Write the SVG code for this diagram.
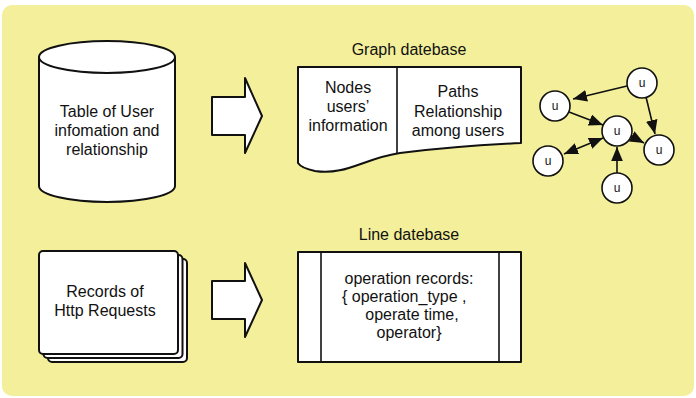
<svg xmlns="http://www.w3.org/2000/svg" width="696" height="398" viewBox="0 0 696 398">
<style>
  .shape { fill: #ffffff; stroke: #111111; stroke-width: 2; stroke-linejoin: round; }
  .txt { font-family: "Liberation Sans", Arial, sans-serif; font-size: 16px; fill: #111111; text-anchor: middle; }
  .gn { fill: #ffffff; stroke: #111111; stroke-width: 1.6; }
  .gt { font-family: "Liberation Sans", Arial, sans-serif; font-size: 12px; fill: #111111; text-anchor: middle; }
  .edge { stroke: #111111; stroke-width: 1.6; fill: none; }
</style>
<defs>
  <marker id="ah" markerUnits="userSpaceOnUse" markerWidth="14" markerHeight="12" refX="12" refY="5" orient="auto-start-reverse" viewBox="0 0 12 10">
    <path d="M0,0 L12,5 L0,10 Z" fill="#111111"/>
  </marker>
</defs>
<rect x="0" y="0" width="696" height="398" fill="#ffffff"/>
<rect id="background" x="2" y="5" width="692" height="391" rx="10" fill="#f3ef9a"/>

<g id="user-table">
  <path class="shape" d="M39,57 V186 A68,16 0 0 0 175,186 V57"/>
  <ellipse class="shape" cx="107" cy="57" rx="68" ry="16"/>
  <text class="txt" x="107" y="117">Table of User</text>
  <text class="txt" x="107" y="136">infomation and</text>
  <text class="txt" x="107" y="155">relationship</text>
</g>

<g id="http-records">
  <rect class="shape" x="48" y="259" width="139" height="103" rx="4" stroke-width="1.6"/>
  <rect class="shape" x="43.5" y="255" width="139" height="103" rx="4" stroke-width="1.6"/>
  <rect class="shape" x="39" y="251" width="139" height="103" rx="4"/>
  <text class="txt" x="105" y="297">Records of</text>
  <text class="txt" x="105" y="316">Http Requests</text>
</g>

<g id="graph-db">
  <text class="txt" x="409" y="55">Graph datebase</text>
  <path class="shape" d="M298,67 H521 V143 C480,145 440,148 400,153 C365,158 345,176 315,171 C305,169 300,166 298,163 Z"/>
  <line class="edge" x1="397" y1="67" x2="397" y2="153" stroke-width="2"/>
  <text class="txt" x="348" y="93">Nodes</text>
  <text class="txt" x="348" y="112">users’</text>
  <text class="txt" x="348" y="131">information</text>
  <text class="txt" x="458" y="97">Paths</text>
  <text class="txt" x="458" y="117">Relationship</text>
  <text class="txt" x="458" y="136">among users</text>
</g>

<g id="line-db">
  <text class="txt" x="409" y="240">Line datebase</text>
  <rect class="shape" x="298" y="252" width="223" height="110"/>
  <line class="edge" x1="321" y1="252" x2="321" y2="362" stroke-width="2"/>
  <line class="edge" x1="499" y1="252" x2="499" y2="362" stroke-width="2"/>
  <text class="txt" x="409" y="284">operation records:</text>
  <text class="txt" x="342" y="302" style="text-anchor:start">{ operation_type ,</text>
  <text class="txt" x="412" y="320">operate time,</text>
  <text class="txt" x="409" y="338">operator}</text>
</g>

<g id="connectors">
  <polygon class="shape" points="212,97 245,97 245,78 262,116 245,153 245,135 212,135" stroke-width="1.6"/>
  <polygon class="shape" points="212,281 245,281 245,263 262,300 245,337 245,319 212,319" stroke-width="1.6"/>
  <line class="edge" x1="627" y1="86" x2="573" y2="99" marker-end="url(#ah)"/>
  <line class="edge" x1="569" y1="112" x2="603" y2="125" marker-end="url(#ah)"/>
  <line class="edge" x1="646" y1="97" x2="655" y2="134" marker-end="url(#ah)"/>
  <line class="edge" x1="631" y1="136" x2="644" y2="143" marker-end="url(#ah)"/>
  <line class="edge" x1="564" y1="154" x2="603" y2="138" marker-start="url(#ah)" marker-end="url(#ah)"/>
  <line class="edge" x1="617" y1="173" x2="617" y2="147" marker-end="url(#ah)"/>
</g>

<g id="gnode-tr"><circle class="gn" cx="642" cy="83" r="15"/><text class="gt" x="642" y="87">u</text></g>
<g id="gnode-l"><circle class="gn" cx="555" cy="106" r="15"/><text class="gt" x="555" y="110">u</text></g>
<g id="gnode-m"><circle class="gn" cx="617" cy="131" r="15"/><text class="gt" x="617" y="135">u</text></g>
<g id="gnode-r"><circle class="gn" cx="659" cy="150" r="15"/><text class="gt" x="659" y="154">u</text></g>
<g id="gnode-bl"><circle class="gn" cx="548" cy="161" r="15"/><text class="gt" x="548" y="165">u</text></g>
<g id="gnode-b"><circle class="gn" cx="617" cy="188" r="15"/><text class="gt" x="617" y="192">u</text></g>
</svg>
